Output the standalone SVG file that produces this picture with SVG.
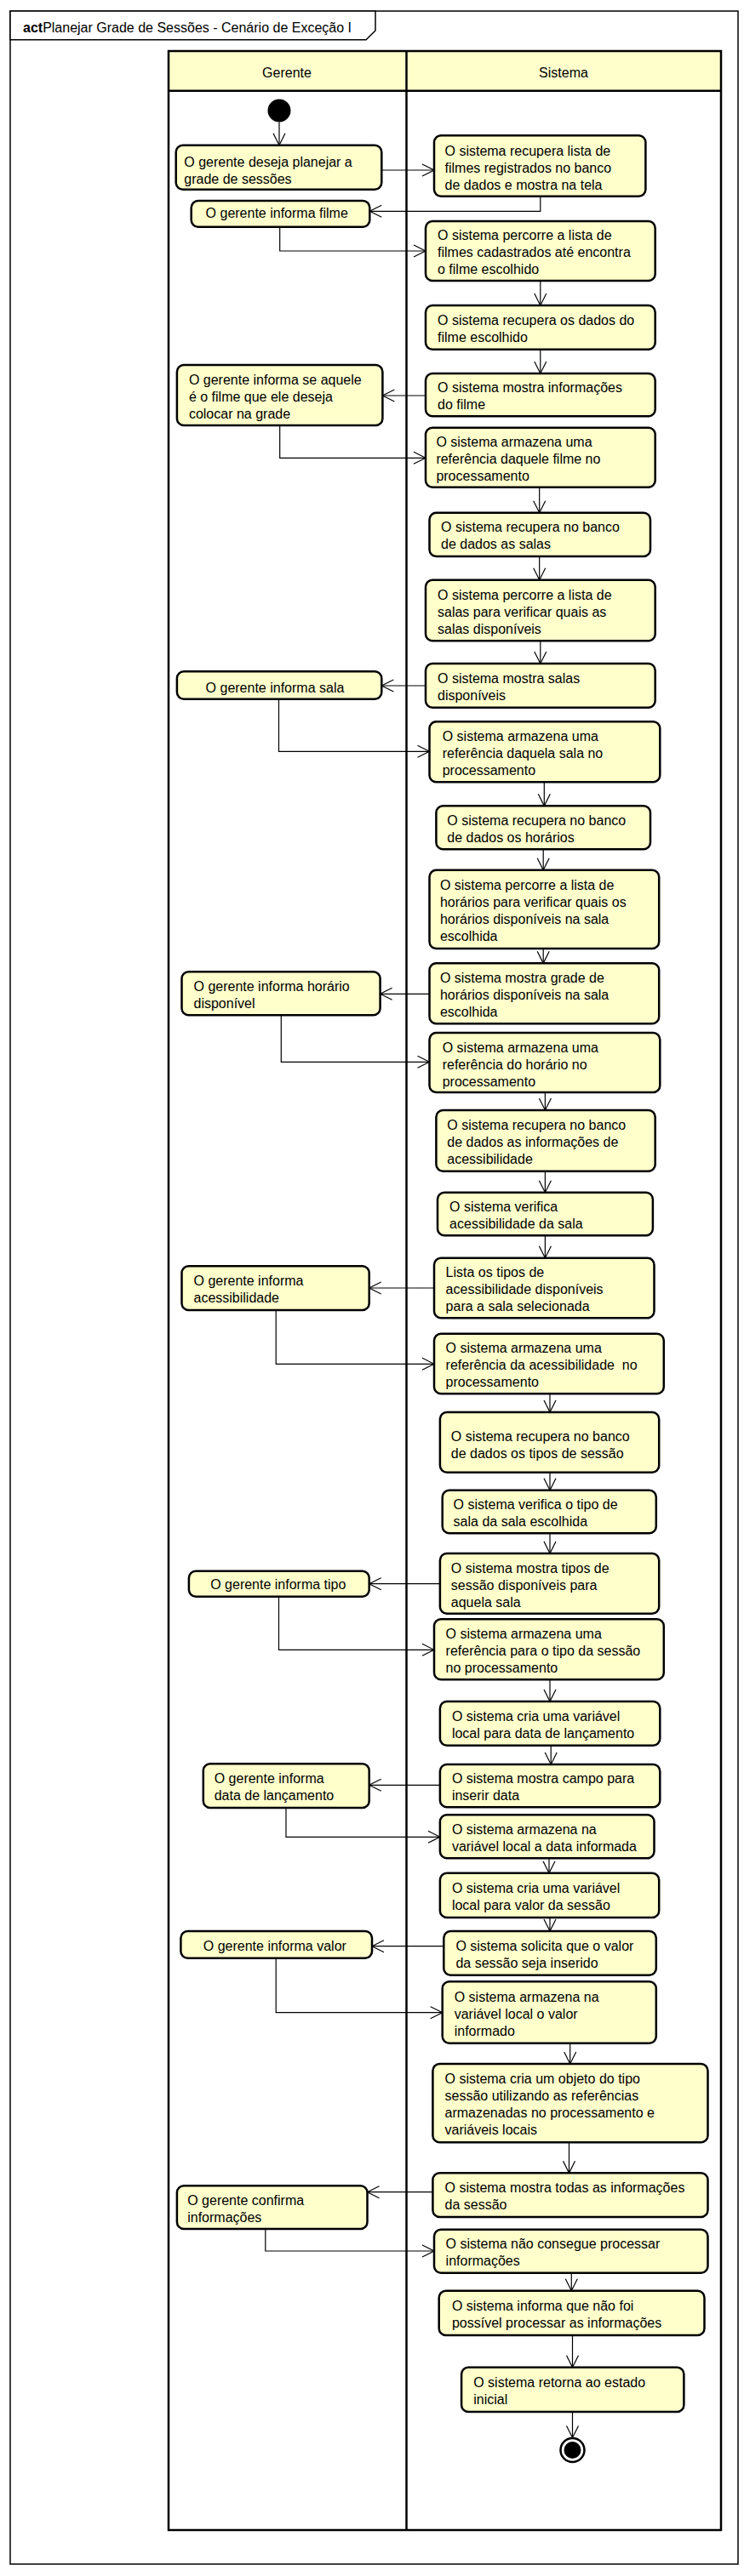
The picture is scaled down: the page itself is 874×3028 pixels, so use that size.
<svg xmlns="http://www.w3.org/2000/svg" width="874" height="3028" viewBox="0 0 874 3028">
<defs>
<style>
text{font-family:"Liberation Sans",Arial,sans-serif;font-size:16px;fill:#000}
.n rect{fill:#FFFFCC;stroke:#000;stroke-width:2.5}
.c path{fill:none;stroke:#000;stroke-width:1.2;marker-end:url(#a)}
.lane{fill:none;stroke:#000;stroke-width:2.5}
</style>
<marker id="a" markerUnits="userSpaceOnUse" markerWidth="20" markerHeight="20" refX="15" refY="8" orient="auto" viewBox="0 0 20 20">
<path d="M1,1 L15,8 L1,15" fill="none" stroke="#000" stroke-width="1.2"/>
</marker>
</defs>
<rect x="0" y="0" width="874" height="3028" fill="#fff"/>
<g id="frame">
<rect x="12" y="13" width="855" height="3001" fill="none" stroke="#000" stroke-width="1.5"/>
<path d="M12,13 L441,13 L441,36 L430,46.7 L12,46.7 Z" fill="#fff" stroke="#000" stroke-width="1.5"/>
<text x="27" y="38"><tspan font-weight="bold">act</tspan>Planejar Grade de Sessões - Cenário de Exceção I</text>
</g>
<g id="lanes">
<rect x="198" y="60" width="649" height="46.7" fill="#FFFFCC" stroke="none"/>
<rect class="lane" x="198" y="60" width="649" height="2914"/>
<line class="lane" x1="198" y1="106.7" x2="847" y2="106.7"/>
<line class="lane" x1="477.5" y1="60" x2="477.5" y2="2974"/>
<text x="337" y="91" text-anchor="middle">Gerente</text>
<text x="662" y="91" text-anchor="middle">Sistema</text>
</g>
<g id="connectors" class="c">
<path d="M328,143.5 L328,170.7"/>
<path d="M448.3,200 L510,200"/>
<path d="M634.8,230.7 L634.8,248.3 L434.3,248.3"/>
<path d="M328.7,266.7 L328.7,295 L500,295"/>
<path d="M634.8,330 L634.8,359"/>
<path d="M634.8,410.7 L634.8,439"/>
<path d="M500,465 L449.4,465"/>
<path d="M328.7,500 L328.7,538.3 L500,538.3"/>
<path d="M633.7,572.7 L633.7,602.7"/>
<path d="M633.7,654 L633.7,681.7"/>
<path d="M634.8,753.3 L634.8,780"/>
<path d="M500,806 L448.3,806"/>
<path d="M327.5,821.7 L327.5,883.3 L504.5,883.3"/>
<path d="M639.3,919.3 L639.3,947.3"/>
<path d="M638.2,998.3 L638.2,1022.7"/>
<path d="M638.2,1115 L638.2,1132.3"/>
<path d="M504.5,1168.3 L446.6,1168.3"/>
<path d="M330.3,1193.3 L330.3,1248.3 L504.5,1248.3"/>
<path d="M640.4,1284 L640.4,1305"/>
<path d="M640.4,1376.7 L640.4,1401.7"/>
<path d="M640.4,1452.3 L640.4,1478.7"/>
<path d="M510,1514 L433.7,1514"/>
<path d="M324.2,1540 L324.2,1603.3 L510,1603.3"/>
<path d="M646,1638.3 L646,1660"/>
<path d="M646,1730.7 L646,1751.7"/>
<path d="M646,1802.3 L646,1826"/>
<path d="M516.9,1861.7 L433.7,1861.7"/>
<path d="M327.5,1876.7 L327.5,1939.3 L510,1939.3"/>
<path d="M646,1974.3 L646,2000"/>
<path d="M647.2,2051.7 L647.2,2074"/>
<path d="M516.9,2098.3 L433.7,2098.3"/>
<path d="M336,2125 L336,2159.3 L516.9,2159.3"/>
<path d="M645,2184.3 L645,2201.7"/>
<path d="M646,2254 L646,2270"/>
<path d="M521.3,2287.7 L437,2287.7"/>
<path d="M324.2,2301.7 L324.2,2365.7 L519.7,2365.7"/>
<path d="M669.7,2401.7 L669.7,2426"/>
<path d="M668.5,2518.3 L668.5,2554.3"/>
<path d="M508.4,2576.7 L431.5,2576.7"/>
<path d="M311.8,2620 L311.8,2646 L510,2646"/>
<path d="M671.3,2671.7 L671.3,2692.7"/>
<path d="M672.5,2745 L672.5,2782.7"/>
<path d="M672.5,2835 L672.5,2865.5"/>
</g>
<g id="initial"><circle cx="328" cy="130" r="13.5" fill="#000"/></g>
<g id="g1" class="n"><rect x="206.7" y="170.7" width="241.6" height="52" rx="8"/><text x="216.3" y="196">O gerente deseja planejar a<tspan x="216.3" y="216">grade de sessões</tspan></text></g>
<g id="s1" class="n"><rect x="510" y="159.3" width="248.4" height="71.4" rx="8"/><text x="522.5" y="182.5">O sistema recupera lista de<tspan x="522.5" y="202.5">filmes registrados no banco</tspan><tspan x="522.5" y="222.5">de dados e mostra na tela</tspan></text></g>
<g id="g2" class="n"><rect x="224.7" y="236" width="209.6" height="30.7" rx="8"/><text x="241.6" y="256">O gerente informa filme</text></g>
<g id="s2" class="n"><rect x="500" y="260" width="269.7" height="70" rx="8"/><text x="514" y="282">O sistema percorre a lista de<tspan x="514" y="302">filmes cadastrados até encontra</tspan><tspan x="514" y="322">o filme escolhido</tspan></text></g>
<g id="s3" class="n"><rect x="500" y="359" width="269.7" height="51.7" rx="8"/><text x="514" y="382">O sistema recupera os dados do<tspan x="514" y="402">filme escolhido</tspan></text></g>
<g id="s4" class="n"><rect x="500" y="439" width="269.7" height="50.3" rx="8"/><text x="514" y="461">O sistema mostra informações<tspan x="514" y="481">do filme</tspan></text></g>
<g id="g3" class="n"><rect x="207.9" y="429" width="241.5" height="71" rx="8"/><text x="221.9" y="452">O gerente informa se aquele<tspan x="221.9" y="472">é o filme que ele deseja</tspan><tspan x="221.9" y="492">colocar na grade</tspan></text></g>
<g id="s5" class="n"><rect x="500" y="502.7" width="269.7" height="70" rx="8"/><text x="512.4" y="525.3">O sistema armazena uma<tspan x="512.4" y="545.3">referência daquele filme no</tspan><tspan x="512.4" y="565.3">processamento</tspan></text></g>
<g id="s6" class="n"><rect x="504.5" y="602.7" width="259.5" height="51.3" rx="8"/><text x="518" y="625.3">O sistema recupera no banco<tspan x="518" y="645.3">de dados as salas</tspan></text></g>
<g id="s7" class="n"><rect x="500" y="681.7" width="269.7" height="71.6" rx="8"/><text x="514" y="705">O sistema percorre a lista de<tspan x="514" y="725">salas para verificar quais as</tspan><tspan x="514" y="745">salas disponíveis</tspan></text></g>
<g id="s8" class="n"><rect x="500" y="780" width="269.7" height="51.7" rx="8"/><text x="514" y="802.7">O sistema mostra salas<tspan x="514" y="822.7">disponíveis</tspan></text></g>
<g id="g4" class="n"><rect x="207.9" y="789.3" width="240.4" height="32.4" rx="8"/><text x="241.6" y="813.7">O gerente informa sala</text></g>
<g id="s9" class="n"><rect x="504.5" y="848.3" width="270.8" height="71" rx="8"/><text x="519.7" y="871">O sistema armazena uma<tspan x="519.7" y="891">referência daquela sala no</tspan><tspan x="519.7" y="911">processamento</tspan></text></g>
<g id="s10" class="n"><rect x="512.4" y="947.3" width="251.6" height="51" rx="8"/><text x="525.3" y="970">O sistema recupera no banco<tspan x="525.3" y="990">de dados os horários</tspan></text></g>
<g id="s11" class="n"><rect x="504.5" y="1022.7" width="269.7" height="92.3" rx="8"/><text x="516.9" y="1046">O sistema percorre a lista de<tspan x="516.9" y="1066">horários para verificar quais os</tspan><tspan x="516.9" y="1086">horários disponíveis na sala</tspan><tspan x="516.9" y="1106">escolhida</tspan></text></g>
<g id="s12" class="n"><rect x="504.5" y="1132.3" width="269.7" height="71" rx="8"/><text x="516.9" y="1155">O sistema mostra grade de<tspan x="516.9" y="1175">horários disponíveis na sala</tspan><tspan x="516.9" y="1195">escolhida</tspan></text></g>
<g id="g5" class="n"><rect x="213.5" y="1142.3" width="233.1" height="51" rx="8"/><text x="227.5" y="1164.5">O gerente informa horário<tspan x="227.5" y="1184.5">disponível</tspan></text></g>
<g id="s13" class="n"><rect x="504.5" y="1214" width="270.8" height="70" rx="8"/><text x="519.7" y="1236.7">O sistema armazena uma<tspan x="519.7" y="1256.7">referência do horário no</tspan><tspan x="519.7" y="1276.7">processamento</tspan></text></g>
<g id="s14" class="n"><rect x="512.4" y="1305" width="257.3" height="71.7" rx="8"/><text x="525.3" y="1327.7">O sistema recupera no banco<tspan x="525.3" y="1347.7">de dados as informações de</tspan><tspan x="525.3" y="1367.7">acessibilidade</tspan></text></g>
<g id="s15" class="n"><rect x="514" y="1401.7" width="252.9" height="50.6" rx="8"/><text x="528.1" y="1424">O sistema verifica<tspan x="528.1" y="1444">acessibilidade da sala</tspan></text></g>
<g id="s16" class="n"><rect x="510" y="1478.7" width="258.5" height="70.6" rx="8"/><text x="523.6" y="1501">Lista os tipos de<tspan x="523.6" y="1521">acessibilidade disponíveis</tspan><tspan x="523.6" y="1541">para a sala selecionada</tspan></text></g>
<g id="g6" class="n"><rect x="213.5" y="1488.3" width="220.2" height="51.7" rx="8"/><text x="227.5" y="1511">O gerente informa<tspan x="227.5" y="1531">acessibilidade</tspan></text></g>
<g id="s17" class="n"><rect x="510" y="1567.7" width="269.8" height="70.6" rx="8"/><text x="523.6" y="1590.3" xml:space="preserve">O sistema armazena uma<tspan x="523.6" y="1610.3">referência da acessibilidade  no</tspan><tspan x="523.6" y="1630.3">processamento</tspan></text></g>
<g id="s18" class="n"><rect x="516.9" y="1660" width="257.3" height="70.7" rx="8"/><text x="529.8" y="1693.5">O sistema recupera no banco<tspan x="529.8" y="1713.5">de dados os tipos de sessão</tspan></text></g>
<g id="s19" class="n"><rect x="519.7" y="1751.7" width="251.1" height="50.6" rx="8"/><text x="532.6" y="1774.3">O sistema verifica o tipo de<tspan x="532.6" y="1794.3">sala da sala escolhida</tspan></text></g>
<g id="s20" class="n"><rect x="516.9" y="1826" width="257.3" height="70.7" rx="8"/><text x="529.8" y="1849.3">O sistema mostra tipos de<tspan x="529.8" y="1869.3">sessão disponíveis para</tspan><tspan x="529.8" y="1889.3">aquela sala</tspan></text></g>
<g id="g7" class="n"><rect x="221.9" y="1846.7" width="211.8" height="30" rx="8"/><text x="247.2" y="1867.5">O gerente informa tipo</text></g>
<g id="s21" class="n"><rect x="510" y="1903.3" width="269.8" height="71" rx="8"/><text x="523.6" y="1926">O sistema armazena uma<tspan x="523.6" y="1946">referência para o tipo da sessão</tspan><tspan x="523.6" y="1966">no processamento</tspan></text></g>
<g id="s22" class="n"><rect x="516.9" y="2000" width="258.4" height="51.7" rx="8"/><text x="530.9" y="2023">O sistema cria uma variável<tspan x="530.9" y="2043">local para data de lançamento</tspan></text></g>
<g id="s23" class="n"><rect x="516.9" y="2074" width="258.4" height="50.3" rx="8"/><text x="530.9" y="2096">O sistema mostra campo para<tspan x="530.9" y="2116">inserir data</tspan></text></g>
<g id="g8" class="n"><rect x="238.8" y="2073.3" width="194.9" height="51.7" rx="8"/><text x="251.7" y="2096">O gerente informa<tspan x="251.7" y="2116">data de lançamento</tspan></text></g>
<g id="s24" class="n"><rect x="516.9" y="2133.3" width="251.6" height="51" rx="8"/><text x="530.9" y="2156">O sistema armazena na<tspan x="530.9" y="2176">variável local a data informada</tspan></text></g>
<g id="s25" class="n"><rect x="516.9" y="2201.7" width="257.3" height="52.3" rx="8"/><text x="530.9" y="2224.5">O sistema cria uma variável<tspan x="530.9" y="2244.5">local para valor da sessão</tspan></text></g>
<g id="s26" class="n"><rect x="521.3" y="2270" width="249.5" height="51.7" rx="8"/><text x="535.4" y="2292.7">O sistema solicita que o valor<tspan x="535.4" y="2312.7">da sessão seja inserido</tspan></text></g>
<g id="g9" class="n"><rect x="212.4" y="2270" width="224.6" height="31.7" rx="8"/><text x="238.8" y="2292.5">O gerente informa valor</text></g>
<g id="s27" class="n"><rect x="519.7" y="2329.3" width="251.1" height="72.4" rx="8"/><text x="533.7" y="2352.7">O sistema armazena na<tspan x="533.7" y="2372.7">variável local o valor</tspan><tspan x="533.7" y="2392.7">informado</tspan></text></g>
<g id="s28" class="n"><rect x="508.4" y="2426" width="323.1" height="92.3" rx="8"/><text x="522.5" y="2449.3">O sistema cria um objeto do tipo<tspan x="522.5" y="2469.3">sessão utilizando as referências</tspan><tspan x="522.5" y="2489.3">armazenadas no processamento e</tspan><tspan x="522.5" y="2509.3">variáveis locais</tspan></text></g>
<g id="s29" class="n"><rect x="508.4" y="2554.3" width="323.1" height="51.7" rx="8"/><text x="522.5" y="2577">O sistema mostra todas as informações<tspan x="522.5" y="2597">da sessão</tspan></text></g>
<g id="g10" class="n"><rect x="207.9" y="2569.3" width="223.6" height="50.7" rx="8"/><text x="220.2" y="2592">O gerente confirma<tspan x="220.2" y="2612">informações</tspan></text></g>
<g id="s30" class="n"><rect x="510" y="2620.7" width="321.5" height="51" rx="8"/><text x="523.6" y="2642.7">O sistema não consegue processar<tspan x="523.6" y="2662.7">informações</tspan></text></g>
<g id="s31" class="n"><rect x="515.7" y="2692.7" width="311.8" height="52.3" rx="8"/><text x="530.9" y="2716">O sistema informa que não foi<tspan x="530.9" y="2736">possível processar as informações</tspan></text></g>
<g id="s32" class="n"><rect x="542.1" y="2782.7" width="261.3" height="52.3" rx="8"/><text x="556.2" y="2806">O sistema retorna ao estado<tspan x="556.2" y="2826">inicial</tspan></text></g>
<g id="final"><circle cx="672.5" cy="2880" r="14" fill="#fff" stroke="#000" stroke-width="2.5"/><circle cx="672.5" cy="2880" r="10" fill="#000"/></g>
</svg>
